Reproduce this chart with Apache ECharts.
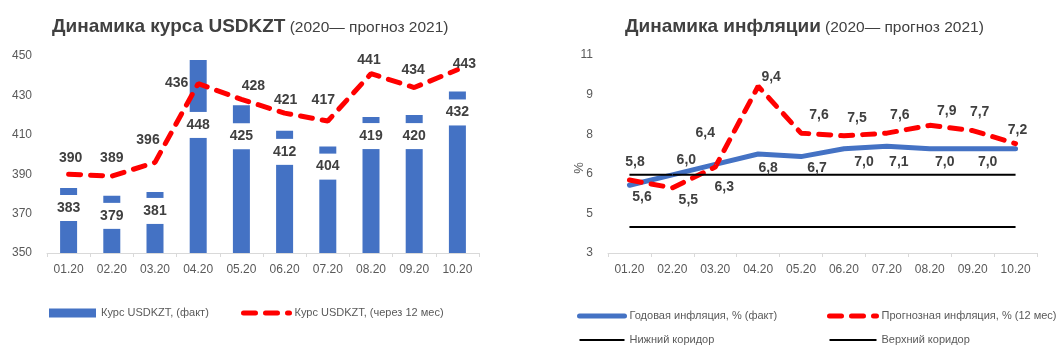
<!DOCTYPE html>
<html>
<head>
<meta charset="utf-8">
<script src="https://cdn.jsdelivr.net/npm/echarts@6/dist/echarts.min.js"></script>
<style>
html,body{margin:0;padding:0;background:#fff;}
#c{width:1058px;height:355px;}
</style>
</head>
<body>
<div id="c"></div>
<script>
// ---- data ----
const categories = ['01.20','02.20','03.20','04.20','05.20','06.20','07.20','08.20','09.20','10.20'];
const usdFact = [383, 379, 381, 448, 425, 412, 404, 419, 420, 432];
const usdForecast = [390, 389, 396, 436, 428, 421, 417, 441, 434, 443];
const usdAxis = { min: 350, max: 450, interval: 20 };
const inflFact = [5.6, 6.0, 6.4, 6.8, 6.7, 7.0, 7.1, 7.0, 7.0, 7.0];
const inflForecast = [5.8, 5.5, 6.3, 9.4, 7.6, 7.5, 7.6, 7.9, 7.7, 7.2];
const corridorLow = [4, 4, 4, 4, 4, 4, 4, 4, 4, 4];
const corridorHigh = [6, 6, 6, 6, 6, 6, 6, 6, 6, 6];
const inflAxis = { min: 3, max: 10.6, interval: 1.52 };

const FONT = "'Liberation Sans', Arial, sans-serif";
const TXT = '#404040';
const AX = '#595959';
function F(size, weight, color) {
  return { fontFamily: FONT, fontSize: size, fontWeight: weight || 'normal', color: color || AX };
}

// label placement tweaks (layout only)
const barLabelDist = [7, 7, 6, 52, 18, 8, 7, 6, 8, 8];
const usdLineNudge = [[2,-15.6],[0,-17.6],[-7,-22],[-21.5,0],[12,-13],[1,-13],[-4.5,-21],[-2,-14],[-1,-17],[7,-6]];
const blueNudge = [[12.5,11.4],[14,-15],[-10,-31],[10,14],[16,12],[20,13],[12,15.5],[15,13],[15,13],null];
const redNudge = [[5.5,-18],[16,12],[9,20],[13,-9.6],[18,-18],[13,-17.5],[13,-18],[17,-14],[7,-18],[2,-13.6]];

const dataLabel = F(14, 'bold', TXT);
const fmt1 = p => Number(p.value).toFixed(1).replace('.', ',');

function xAxisCfg(gi) {
  return {
    type: 'category', gridIndex: gi, data: categories, boundaryGap: true,
    axisLine: { lineStyle: { color: '#D9D9D9', width: 1 } },
    axisTick: { show: true, length: 4, lineStyle: { color: '#D9D9D9' } },
    axisLabel: Object.assign({ margin: 11, interval: 0 }, F(12)),
    splitLine: { show: false }
  };
}
function titleCfg(left, bold) {
  return { left: left, top: 16, padding: 0, text: '{b|' + bold + '} {n|(2020— прогноз 2021)}',
    textStyle: Object.assign(F(15, 'normal', TXT), { rich: {
      b: Object.assign({ verticalAlign: 'bottom', lineHeight: 20 }, F(19, 'bold', TXT)),
      n: Object.assign({ verticalAlign: 'bottom', lineHeight: 20 }, F(15.5, 'normal', TXT)) } }) };
}
const legendText = Object.assign({ lineHeight: 14 }, F(11));
const thickLine = { width: 5, cap: 'round' };
const thinLine = { width: 2, cap: 'butt' };

const chart = echarts.init(document.getElementById('c'), null, { renderer: 'canvas' });
chart.setOption({
  animation: false,
  backgroundColor: '#fff',
  title: [ titleCfg(52, 'Динамика курса USDKZT'), titleCfg(625, 'Динамика инфляции') ],
  legend: [
    { left: 49, top: 306, padding: 0, itemWidth: 47, itemHeight: 9,
      data: [{ name: 'Курс USDKZT, (факт)', icon: 'rect' }], textStyle: legendText },
    { left: 241, top: 306, padding: 0, itemWidth: 46, itemHeight: 9,
      data: [{ name: 'Курс USDKZT, (через 12 мес)', lineStyle: thickLine }],
      itemStyle: { opacity: 0 }, textStyle: legendText },
    { left: 577, top: 309, height: 46, padding: 0, orient: 'vertical', itemWidth: 45, itemHeight: 10, itemGap: 10,
      itemStyle: { opacity: 0 },
      data: [{ name: 'Годовая инфляция, % (факт)', lineStyle: thickLine },
             { name: 'Нижний коридор', lineStyle: thinLine }], textStyle: legendText },
    { left: 827, top: 309, height: 46, padding: 0, orient: 'vertical', itemWidth: 47, itemHeight: 10, itemGap: 10,
      itemStyle: { opacity: 0 },
      data: [{ name: 'Прогнозная инфляция, % (12 мес)', lineStyle: thickLine },
             { name: 'Верхний коридор', lineStyle: thinLine }], textStyle: legendText }
  ],
  grid: [
    { left: 47, right: 579, top: 56, bottom: 102 },
    { left: 608, right: 21, top: 55, bottom: 102 }
  ],
  xAxis: [xAxisCfg(0), xAxisCfg(1)],
  yAxis: [
    { type: 'value', gridIndex: 0, min: usdAxis.min, max: usdAxis.max, interval: usdAxis.interval,
      axisLine: { show: false }, axisTick: { show: false }, splitLine: { show: false },
      axisLabel: Object.assign({ margin: 15 }, F(12)) },
    { type: 'value', gridIndex: 1, min: inflAxis.min, max: inflAxis.max, interval: inflAxis.interval,
      axisLine: { show: false }, axisTick: { show: false }, splitLine: { show: false },
      axisLabel: Object.assign({ margin: 15, formatter: v => String(Math.round(v)) }, F(12)),
      name: '%', nameLocation: 'middle', nameGap: 22, nameMoveOverlap: false,
      nameTextStyle: Object.assign({ padding: [0, 28, 0, 0] }, F(13)) }
  ],
  series: [
    { name: 'Курс USDKZT, (факт)', type: 'bar', xAxisIndex: 0, yAxisIndex: 0, barWidth: 17,
      itemStyle: { color: '#4472C4' }, silent: true,
      label: Object.assign({ show: true, position: 'insideTop', backgroundColor: '#fff',
        padding: [5, 3], lineHeight: 16 }, dataLabel),
      data: usdFact.map((v, i) => ({ value: v, label: { distance: barLabelDist[i] } })) },
    { name: 'Курс USDKZT, (через 12 мес)', type: 'line', xAxisIndex: 0, yAxisIndex: 0,
      symbol: 'circle', symbolSize: 1, silent: true,
      itemStyle: { color: '#FF0000' },
      lineStyle: { color: '#FF0000', width: 5, type: [12, 10], cap: 'round' },
      label: Object.assign({ show: true, position: 'inside' }, dataLabel),
      data: usdForecast.map((v, i) => ({ value: v, label: { offset: usdLineNudge[i] } })) },
    { name: 'Годовая инфляция, % (факт)', type: 'line', xAxisIndex: 1, yAxisIndex: 1,
      symbol: 'circle', symbolSize: 1, silent: true,
      itemStyle: { color: '#4472C4' },
      lineStyle: { color: '#4472C4', width: 5, cap: 'round' },
      label: Object.assign({ show: true, position: 'inside', formatter: fmt1 }, dataLabel),
      data: inflFact.map((v, i) => ({ value: v,
        label: blueNudge[i] ? { offset: blueNudge[i] } : { show: false } })) },
    { name: 'Прогнозная инфляция, % (12 мес)', type: 'line', xAxisIndex: 1, yAxisIndex: 1,
      symbol: 'circle', symbolSize: 1, silent: true, z: 3,
      itemStyle: { color: '#FF0000' },
      lineStyle: { color: '#FF0000', width: 5, type: [12, 10], cap: 'round' },
      label: Object.assign({ show: true, position: 'inside', formatter: fmt1 }, dataLabel),
      data: inflForecast.map((v, i) => ({ value: v, label: { offset: redNudge[i] } })) },
    { name: 'Нижний коридор', type: 'line', xAxisIndex: 1, yAxisIndex: 1,
      symbol: 'none', silent: true,
      itemStyle: { color: '#000' }, lineStyle: { color: '#000', width: 2 },
      data: corridorLow },
    { name: 'Верхний коридор', type: 'line', xAxisIndex: 1, yAxisIndex: 1,
      symbol: 'none', silent: true,
      itemStyle: { color: '#000' }, lineStyle: { color: '#000', width: 2 },
      data: corridorHigh }
  ]
});
</script>
</body>
</html>
